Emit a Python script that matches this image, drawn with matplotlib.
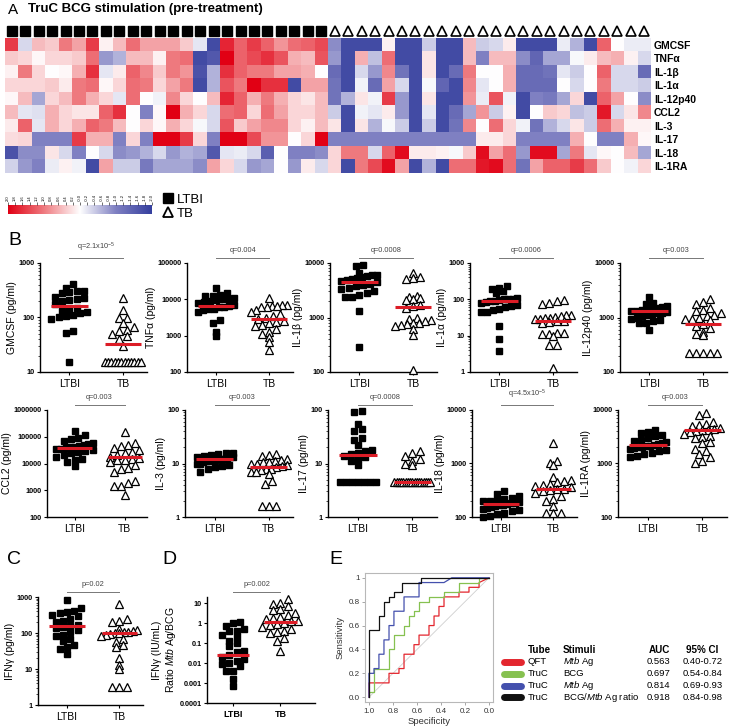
import numpy as np
import matplotlib
matplotlib.use("Agg")
import matplotlib.pyplot as plt
from matplotlib.colors import LinearSegmentedColormap
from matplotlib.lines import Line2D
from matplotlib.ticker import FixedLocator, LogLocator, NullFormatter

plt.rcParams['font.family'] = ['Liberation Sans', 'DejaVu Sans']
plt.rcParams['mathtext.fontset'] = 'custom'
plt.rcParams['mathtext.rm'] = 'Liberation Sans'
plt.rcParams['mathtext.it'] = 'Liberation Sans:italic'
plt.rcParams['mathtext.bf'] = 'Liberation Sans:bold'

# ---------------- data ----------------
cytokines = ['GMCSF', 'TNFα', 'IL-1β', 'IL-1α', 'IL-12p40', 'CCL2', 'IL-3', 'IL-17', 'IL-18', 'IL-1RA']

# z-scores, rows = cytokines, 24 LTBI columns then 24 TB columns
heat_ltbi = [
    [1.5, -0.3, 0.5, 0.4, 1.0, 0.7, 1.5, 0.1, 0.5, 1.1, 0.7, 0.7, 0.7, 0.4, -0.2, -1.8, 1.7, 1.2, 1.5, 1.2, 0.8, 1.1, 1.2, 1.4],
    [0.4, 0.3, 0.05, 0.3, 0.3, 0.4, 1.1, -0.8, -0.6, 0.5, 0.5, 0.1, 1.0, 1.1, -1.8, -1.6, 2.0, 1.2, 1.4, 1.6, 1.3, 0.6, 0.5, 1.3],
    [0.1, 1.0, 0.3, 0.0, 0.05, 0.6, 1.6, -0.2, 0.15, 1.2, 0.9, 0.4, 1.0, 0.8, -1.7, -0.6, 1.6, 1.2, 1.0, 1.0, 0.7, 0.7, 0.6, 0.0],
    [0.3, 0.3, 0.3, 0.4, 0.15, 1.0, 1.1, 0.05, 0.3, 1.1, 1.0, 0.3, 0.7, 1.0, -1.8, -0.6, 1.3, 1.0, 2.0, 1.6, 1.6, -1.8, 0.7, 0.7],
    [0.05, 0.5, -0.7, 0.3, 0.5, 1.0, 0.6, 0.3, -0.2, 1.1, 0.0, -0.1, 0.9, 0.3, 0.0, 0.5, 1.7, 1.2, 0.6, 1.0, 0.6, 0.3, 0.2, 0.5],
    [0.5, -0.2, -0.25, 0.6, 0.3, 0.2, 0.2, 1.2, 1.6, 0.0, -1.0, 0.05, 2.0, 0.6, 0.3, -0.3, 1.1, 1.2, 0.3, 1.1, 0.7, 0.3, 0.3, 0.5],
    [0.15, 1.2, -0.2, 0.6, 0.3, 0.6, 1.2, 1.0, 0.5, 0.0, 0.3, 0.05, 0.6, 0.3, -0.05, -0.3, 1.3, 0.4, 0.7, 0.9, 0.9, 0.3, 0.1, 0.5],
    [0.25, 0.3, -1.0, -1.0, -1.0, 1.5, 0.6, 0.6, -1.0, 0.3, -1.0, 2.0, 2.0, 1.5, 0.3, -1.0, 2.0, 2.0, 1.4, 0.8, 0.8, 0.0, 0.3, 2.0],
    [-1.7, -0.9, -0.9, 0.2, -0.3, -1.0, 0.0, -0.3, -0.9, -0.8, -0.6, -0.3, -0.8, -0.6, -0.7, -1.6, -0.2, -0.15, -0.3, -1.5, 0.0, -1.0, -1.0, -0.9],
    [-0.35, -0.8, -1.0, -0.15, 0.1, -0.1, -1.8, 0.7, -0.4, -0.4, -1.1, -0.7, -0.7, -0.7, -0.9, 0.7, 0.3, -0.3, -0.8, -0.7, 0.0, -0.8, 0.15, -0.3],
]
heat_tb = [
    [-0.9, -1.8, -1.8, -1.8, 0.1, -1.8, -1.8, -0.4, -1.8, -1.8, 0.5, -0.4, -0.3, 0.15, -1.8, -1.8, -1.8, -0.15, -0.6, -1.8, 1.2, 0.0, -0.15, -0.15],
    [-0.8, -1.8, 0.6, -0.5, 1.1, -1.8, -1.8, 0.2, -1.8, -1.8, 0.5, -1.0, 0.5, 0.5, -0.9, -1.4, -0.7, -0.7, -0.05, 0.15, 0.5, 0.6, 0.1, -0.3],
    [-1.3, -1.8, -0.3, -0.8, 0.9, -1.2, -1.8, 0.2, -1.8, -1.3, 1.0, 0.0, 0.0, 0.6, -1.3, -1.3, -1.2, -0.2, -0.4, 0.0, 1.2, -0.3, -0.3, -1.3],
    [-1.2, -1.8, -0.1, -1.3, 0.7, -0.3, -1.8, -0.05, -1.4, -1.8, 0.9, -0.2, 0.0, 0.6, -1.3, -1.3, -1.3, 0.0, -0.3, 0.0, 1.0, -0.3, -0.3, -0.4],
    [-1.2, -0.6, 0.2, -0.1, 1.5, -0.8, -1.8, 0.2, -1.8, -1.8, 0.8, -0.15, 1.3, -0.1, -1.8, -1.0, -1.1, -0.7, 0.3, -1.8, 1.2, 0.7, 0.0, -0.9],
    [-0.4, -1.8, -0.1, -0.2, 0.15, -0.8, -1.8, -0.2, -1.8, -1.3, -0.7, 0.8, -0.4, 0.1, -1.8, 0.0, 0.4, 0.3, -0.5, -0.4, 1.8, -0.3, 0.2, 0.9],
    [0.2, -1.8, 0.2, -0.6, -0.05, -0.4, -1.8, -0.4, -1.8, -1.2, 0.9, 0.0, 1.1, 0.3, -0.1, -1.2, -0.6, -0.3, 0.2, -0.4, 1.1, 0.6, 0.1, 0.1],
    [-1.0, -1.0, -1.0, -1.0, -1.0, -1.0, -1.0, -1.0, -1.0, -1.0, -1.0, 0.15, 0.15, 0.3, -1.0, -1.0, -1.0, -1.0, 0.6, 0.0, -1.0, -1.0, 0.6, 0.05],
    [0.3, 1.0, 1.0, -0.3, 1.2, 1.9, 0.15, 0.15, 0.1, -0.05, 0.4, 1.9, 0.7, 1.1, -0.8, 1.9, 1.9, -0.7, 1.0, -0.2, 0.05, 0.0, 0.5, -0.7],
    [0.3, -1.8, 1.0, 1.4, 1.9, 0.7, -1.8, -0.6, -1.8, 1.1, 1.1, 1.8, 1.9, 1.1, -1.2, 0.7, 1.2, 1.2, 1.5, 1.1, 0.4, 0.0, -0.1, 0.3],
]

# panel B (pg/ml), lines = group medians
gmcsf_ltbi = [415, 350, 300, 300, 290, 280, 240, 230, 220, 210, 200, 175, 150, 140, 130, 125, 120, 110, 105, 100, 95, 57, 52, 15]
gmcsf_tb = [230, 138, 96, 96, 80, 66, 60, 57, 50, 45, 40, 30] + [15] * 12
gmcsf_med = [160, 33]
tnf_ltbi = [21000, 15000, 13000, 12000, 12000, 11000, 10000, 10000, 9500, 9000, 8500, 8000, 7000, 6500, 6000, 6000, 5500, 5500, 5000, 4500, 2700, 2200, 1300, 1000]
tnf_tb = [11000, 7000, 6800, 6500, 6500, 6200, 6000, 5000, 4500, 4000, 3500, 3000, 2800, 2500, 2400, 2300, 2000, 1800, 1500, 1300, 1100, 900, 650, 400]
tnf_med = [6400, 2900]
il1b_ltbi = [9300, 8700, 6500, 6100, 6000, 5800, 5500, 5300, 5000, 4800, 4600, 4400, 4200, 4000, 3800, 3500, 3300, 3000, 2800, 2600, 2400, 2400, 1300, 290]
il1b_tb = [6500, 5600, 5200, 5000, 2500, 2400, 2300, 2200, 2100, 1700, 1600, 1500, 1000, 950, 900, 850, 800, 780, 750, 720, 700, 620, 480, 110]
il1b_med = [4400, 1580]
il1a_ltbi = [235, 200, 190, 170, 150, 110, 105, 100, 100, 95, 90, 88, 85, 80, 72, 65, 60, 55, 50, 45, 45, 18, 8, 3.9]
il1a_tb = [95, 90, 78, 75, 38, 37, 35, 33, 30, 30, 28, 28, 26, 25, 24, 23, 12, 12, 11, 11, 10, 5.6, 5.6, 1.3]
il1a_med = [90, 25]
il12_ltbi = [2400, 1850, 1800, 1600, 1550, 1500, 1450, 1400, 1350, 1300, 1300, 1250, 1200, 1200, 1150, 1100, 1050, 1000, 950, 900, 850, 800, 780, 600]
il12_tb = [2200, 1900, 1800, 1500, 1400, 1300, 1200, 1100, 1050, 1000, 950, 920, 900, 750, 700, 650, 550, 500, 470, 220, 220, 220, 220, 220]
il12_med = [1290, 750]
ccl2_ltbi = [170000, 120000, 90000, 80000, 70000, 60000, 55000, 50000, 45000, 42000, 40000, 38000, 36000, 34000, 32000, 30000, 27000, 25000, 20000, 18000, 15000, 13000, 11000, 8000]
ccl2_tb = [145000, 58000, 50000, 45000, 38000, 32000, 27000, 24000, 20000, 18000, 16000, 15000, 14000, 13000, 11000, 9000, 7000, 6000, 5000, 2200, 1800, 1500, 1400, 650]
ccl2_med = [38700, 16800]
il3_ltbi = [16, 15.5, 15, 14.5, 14, 13.5, 13, 13, 12.5, 12, 12, 12, 11.5, 11.5, 11, 11, 10.5, 10, 10, 9.5, 9, 8.5, 8, 7]
il3_tb = [15, 14.5, 14, 12, 11.5, 11, 10.5, 10.5, 10, 10, 9.5, 9, 8.5, 8, 8, 7.5, 7, 7, 6.5, 4.7, 4.2, 1.6, 1.6, 1.6]
il3_med = [11.9, 8.7]
il17_ltbi = [95, 93, 55, 45, 40, 30, 28, 22, 18, 17, 16, 15, 14, 13, 12, 11, 9.3] + [4.5] * 7
il17_tb = [17, 16, 14, 12, 11, 10, 9.5] + [4.5] * 17
il17_med = [14.3, 4.5]
il18_ltbi = [300, 270, 250, 230, 220, 210, 200, 195, 190, 185, 180, 175, 170, 165, 160, 155, 150, 140, 135, 130, 120, 115, 105, 100]
il18_tb = [2400, 1100, 1000, 950, 550, 500, 480, 460, 420, 400, 380, 360, 340, 330, 320, 300, 280, 250, 220, 200, 160, 120, 120, 120]
il18_med = [177, 335]
il1ra_ltbi = [4200, 3900, 3700, 3400, 3200, 3000, 2800, 2600, 2500, 2400, 2300, 2200, 2100, 2100, 2000, 2000, 1950, 1900, 1800, 1700, 1600, 1500, 1400, 1350]
il1ra_tb = [8800, 8200, 6000, 5500, 5200, 5000, 4700, 4500, 4300, 4200, 4000, 3800, 3500, 3300, 3100, 3000, 2500, 2400, 1900, 1700, 1500, 1300, 1100, 1000]
il1ra_med = [2200, 4150]

# panel C (pg/ml) and D (ratio)
ifng_ltbi = [800, 480, 400, 380, 350, 320, 300, 250, 220, 200, 170, 155, 150, 140, 120, 110, 90, 80, 70, 60, 45, 40, 35, 26]
ifng_tb = [650, 250, 220, 200, 130, 120, 115, 110, 105, 100, 100, 95, 90, 80, 70, 55, 45, 40, 20, 13, 10, 3.2, 3.2, 3.2]
ifng_med = [154, 98]
ratio_ltbi = [1.1, 1.0, 0.7, 0.5, 0.42, 0.4, 0.25, 0.2, 0.12, 0.1, 0.07, 0.04, 0.035, 0.025, 0.02, 0.015, 0.013, 0.01, 0.009, 0.007, 0.004, 0.004, 0.0016, 0.0007]
ratio_tb = [16, 10, 9, 7, 5, 4.5, 3, 2.5, 2, 1.8, 1.5, 1.3, 1.2, 1.0, 0.9, 0.8, 0.6, 0.5, 0.4, 0.35, 0.3, 0.18, 0.13, 0.04]
ratio_med = [0.026, 1.18]

# panel E ROC vertices (specificity, sensitivity)
roc_qft_spec = [1, 1, 0.833, 0.833, 0.75, 0.75, 0.708, 0.708, 0.625, 0.625, 0.583, 0.583, 0.5, 0.5, 0.458, 0.458, 0.417, 0.417, 0.375, 0.375, 0.25, 0.25, 0.167, 0.167, 0.083, 0.083, 0]
roc_qft_sens = [0, 0.12, 0.12, 0.2, 0.2, 0.24, 0.24, 0.36, 0.36, 0.44, 0.44, 0.52, 0.52, 0.6, 0.6, 0.68, 0.68, 0.76, 0.76, 0.84, 0.84, 0.88, 0.88, 0.92, 0.92, 0.96, 1.0]
roc_bcg_spec = [1, 1, 0.958, 0.958, 0.833, 0.833, 0.792, 0.792, 0.708, 0.708, 0.667, 0.667, 0.625, 0.625, 0.583, 0.583, 0.5, 0.5, 0.375, 0.375, 0.25, 0.25, 0.083, 0.083, 0]
roc_bcg_sens = [0, 0.04, 0.04, 0.24, 0.24, 0.4, 0.4, 0.52, 0.52, 0.6, 0.6, 0.68, 0.68, 0.72, 0.72, 0.8, 0.8, 0.84, 0.84, 0.88, 0.88, 0.96, 0.96, 1.0, 1.0]
roc_mtb_spec = [1, 1, 0.958, 0.958, 0.917, 0.917, 0.875, 0.875, 0.833, 0.833, 0.792, 0.792, 0.708, 0.708, 0.583, 0.583, 0.375, 0.31, 0]
roc_mtb_sens = [0, 0.2, 0.2, 0.24, 0.24, 0.36, 0.36, 0.48, 0.48, 0.6, 0.6, 0.72, 0.72, 0.84, 0.84, 0.96, 0.96, 1.0, 1.0]
roc_ratio_spec = [1, 1, 0.917, 0.917, 0.875, 0.875, 0.833, 0.833, 0.792, 0.792, 0.729, 0.729, 0.563, 0.563, 0]
roc_ratio_sens = [0, 0.56, 0.56, 0.68, 0.68, 0.8, 0.8, 0.84, 0.84, 0.88, 0.88, 0.96, 0.96, 1.0, 1.0]

roc_tube = ['QFT', 'TruC', 'TruC', 'TruC']
roc_stim = ['$\\mathit{Mtb}$ Ag', 'BCG', '$\\mathit{Mtb}$ Ag', 'BCG/$\\mathit{Mtb}$ Ag ratio']
roc_auc = ['0.563', '0.697', '0.814', '0.918']
roc_ci = ['0.40-0.72', '0.54-0.84', '0.69-0.93', '0.84-0.98']
roc_colors = ['#e3262e', '#86c150', '#4450ad', '#111111']

W, H = 729, 728
fig = plt.figure(figsize=(7.29, 7.28), dpi=100)


def box(x0, y0, x1, y1):
    return [x0 / W, 1 - y1 / H, (x1 - x0) / W, (y1 - y0) / H]


# ---------------- panel A ----------------
fig.text(8 / W, 1 - 3 / H, 'A', fontsize=11, va='top')
fig.text(28 / W, 1 - 3 / H, 'TruC BCG stimulation (pre-treatment)', fontsize=9.5,
         fontweight='bold', va='top')

cmap = LinearSegmentedColormap.from_list(
    'bwr2', ['#353f9e', '#7f80c2', '#ffffff', '#ef7b80', '#e10014'])
z = np.hstack([np.array(heat_ltbi), np.array(heat_tb)])
ncol = z.shape[1]
n_ltbi = len(heat_ltbi[0])

ax_h = fig.add_axes(box(5, 38, 651, 173))
ax_h.imshow(z, cmap=cmap, vmin=-2, vmax=2, aspect='auto', interpolation='nearest')
ax_h.set_xticks([])
ax_h.yaxis.tick_right()
ax_h.set_yticks(range(len(cytokines)))
ax_h.set_yticklabels(cytokines, fontsize=7.5, fontweight='bold')
ax_h.tick_params(axis='y', length=0, pad=2)
for s in ax_h.spines.values():
    s.set_visible(False)

ax_m = fig.add_axes(box(5, 23, 651, 38))
ax_m.set_xlim(-0.5, ncol - 0.5)
ax_m.set_ylim(-1, 1)
ax_m.plot(range(n_ltbi), [0] * n_ltbi, 's', color='black', ms=7.5, ls='')
ax_m.plot(range(n_ltbi, ncol), [0] * (ncol - n_ltbi), '^', mfc='white', mec='black',
          mew=1.2, ms=7.5, ls='')
ax_m.axis('off')

cax = fig.add_axes(box(8, 205, 152, 214))
cax.imshow(np.linspace(2, -2, 256)[None, :], cmap=cmap, vmin=-2, vmax=2,
           extent=[2, -2, 0, 1], aspect='auto')
cticks = np.round(np.arange(-2, 2.01, 0.2), 1)
cax.set_xticks(cticks)
cax.set_xticklabels(['%.1f' % t for t in cticks], rotation=90, fontsize=3)
cax.xaxis.tick_top()
cax.tick_params(axis='x', length=2, width=0.4, pad=1)
cax.set_yticks([])
for s in cax.spines.values():
    s.set_visible(False)

fig.legend(handles=[Line2D([], [], marker='s', color='black', ls='', ms=7),
                    Line2D([], [], marker='^', mfc='white', mec='black', mew=1.3, ls='', ms=7.5)],
           labels=['LTBI', 'TB'], loc='upper left', bbox_to_anchor=(156 / W, 1 - 188 / H),
           frameon=False, fontsize=9.5, handletextpad=0.2, labelspacing=0.15,
           handlelength=1.0, borderaxespad=0)


# ---------------- dot plots ----------------
def swarm(vals, ylim, h_px, xlim, w_px):
    # rows of points (Prism-like scatter), spread sideways inside each row
    y = (np.log10(vals) - np.log10(ylim[0])) / (np.log10(ylim[1]) - np.log10(ylim[0])) * h_px
    bins = np.floor(y / 7.5)
    offs = np.zeros(len(vals))
    for b in np.unique(bins):
        idx = np.where(bins == b)[0]
        idx = idx[np.argsort(y[idx])]
        n = len(idx)
        step = min(7.2, 36.0 / max(n - 1, 1))
        offs[idx] = (np.arange(n) - (n - 1) / 2) * step
    return offs * (xlim[1] - xlim[0]) / w_px


def fmt(v):
    return str(int(v)) if v >= 1 else np.format_float_positional(v)


def dot_panel(px, ltbi, tb, med, ylim, ylabel, qtext, xlim=(0.45, 2.45), bold_x=False):
    ax = fig.add_axes(box(*px))
    w_px, h_px = px[2] - px[0], px[3] - px[1]
    ax.set_yscale('log')
    ax.set_ylim(ylim)
    ax.set_xlim(xlim)
    for pos, vals in [(1, ltbi), (2, tb)]:
        vals = np.array(vals, dtype=float)
        xs = pos + swarm(vals, ylim, h_px, xlim, w_px)
        if pos == 1:
            ax.plot(xs, vals, 's', color='black', ms=4.8, ls='', clip_on=False, zorder=3)
        else:
            ax.plot(xs, vals, '^', mfc='white', mec='black', mew=0.9, ms=5.4, ls='',
                    clip_on=False, zorder=3)
    for pos, m in zip([1, 2], med):
        ax.plot([pos - 0.34, pos + 0.34], [m, m], color='#dc1c26', lw=2.2,
                solid_capstyle='butt', zorder=4)
    decades = 10.0 ** np.arange(np.round(np.log10(ylim[0])), np.log10(ylim[1]) + 0.01)
    ax.yaxis.set_major_locator(FixedLocator(decades))
    ax.set_yticklabels([fmt(d) for d in decades], fontsize=5.2, fontweight='bold')
    ax.yaxis.set_minor_locator(LogLocator(subs=np.arange(2, 10)))
    ax.yaxis.set_minor_formatter(NullFormatter())
    ax.tick_params(axis='y', which='major', length=2.5, width=0.8, pad=1.2)
    ax.tick_params(axis='y', which='minor', length=1.3, width=0.5)
    ax.set_xticks([1, 2])
    ax.set_xticklabels(['LTBI', 'TB'], fontsize=7.5 if not bold_x else 6.5,
                       fontweight='bold' if bold_x else 'normal')
    ax.tick_params(axis='x', length=2, width=0.8, pad=3)
    for s in ['top', 'right']:
        ax.spines[s].set_visible(False)
    for s in ['left', 'bottom']:
        ax.spines[s].set_linewidth(1.0)
    ax.set_ylabel(ylabel, fontsize=7.5, labelpad=1.5)
    tr = ax.get_xaxis_transform()
    ax.plot([1, 2], [1.05, 1.05], color='#777777', lw=0.7, transform=tr, clip_on=False)
    ax.text(1.5, 1.085, qtext, transform=tr, ha='center', va='bottom', fontsize=5.3,
            color='#444444')
    return ax


fig.text(8 / W, 1 - 232 / H, 'B', fontsize=14, va='top')

dot_panel((40, 263, 147, 372), gmcsf_ltbi, gmcsf_tb, gmcsf_med, (10, 1000),
          'GMCSF (pg/ml)', 'q=2.1x10$^{-5}$')
dot_panel((187, 263, 293, 372), tnf_ltbi, tnf_tb, tnf_med, (100, 100000),
          'TNFα (pg/ml)', 'q=0.004')
dot_panel((330, 263, 437, 372), il1b_ltbi, il1b_tb, il1b_med, (100, 10000),
          'IL-1β (pg/ml)', 'q=0.0008')
dot_panel((470, 263, 577, 372), il1a_ltbi, il1a_tb, il1a_med, (1, 1000),
          'IL-1α (pg/ml)', 'q=0.0006')
dot_panel((620, 263, 727, 372), il12_ltbi, il12_tb, il12_med, (100, 10000),
          'IL-12p40 (pg/ml)', 'q=0.003')

dot_panel((47, 410, 147, 517), ccl2_ltbi, ccl2_tb, ccl2_med, (100, 1000000),
          'CCL2 (pg/ml)', 'q=0.003')
dot_panel((185, 410, 293, 517), il3_ltbi, il3_tb, il3_med, (1, 100),
          'IL-3 (pg/ml)', 'q=0.003')
dot_panel((328, 410, 437, 517), il17_ltbi, il17_tb, il17_med, (1, 100),
          'IL-17 (pg/ml)', 'q=0.0008')
dot_panel((472, 410, 577, 517), il18_ltbi, il18_tb, il18_med, (100, 10000),
          'IL-18 (pg/ml)', 'q=4.5x10$^{-5}$')
dot_panel((618, 410, 727, 517), il1ra_ltbi, il1ra_tb, il1ra_med, (100, 10000),
          'IL-1RA (pg/ml)', 'q=0.003')

fig.text(7 / W, 1 - 551 / H, 'C', fontsize=14, va='top')
dot_panel((38, 597, 143, 705), ifng_ltbi, ifng_tb, ifng_med, (1, 1000),
          'IFNγ (pg/ml)', 'p=0.02')

fig.text(162 / W, 1 - 551 / H, 'D', fontsize=14, va='top')
dot_panel((207, 597, 315, 703), ratio_ltbi, ratio_tb, ratio_med, (0.0001, 20),
          'IFNγ (IU/mL)\nRatio $\\mathit{Mtb}$ Ag/BCG', 'p=0.002',
          xlim=(0.45, 2.73), bold_x=True)

# ---------------- panel E ----------------
fig.text(329 / W, 1 - 551 / H, 'E', fontsize=14, va='top')
ax_e = fig.add_axes(box(365, 573, 493, 702))
ax_e.set_xlim(1.033, -0.033)
ax_e.set_ylim(-0.04, 1.04)
ax_e.plot([1, 0], [0, 1], color='#cfcfcf', lw=0.6)
for sp, se, c in [(roc_qft_spec, roc_qft_sens, roc_colors[0]),
                  (roc_bcg_spec, roc_bcg_sens, roc_colors[1]),
                  (roc_mtb_spec, roc_mtb_sens, roc_colors[2]),
                  (roc_ratio_spec, roc_ratio_sens, roc_colors[3])]:
    ax_e.plot(sp, se, color=c, lw=0.9)
ax_e.set_xticks([1.0, 0.8, 0.6, 0.4, 0.2, 0.0])
ax_e.set_xticklabels(['1.0', '0.8', '0.6', '0.4', '0.2', '0.0'])
ax_e.set_yticks([0, 0.2, 0.4, 0.6, 0.8, 1.0])
ax_e.set_yticklabels(['0.0', '0.2', '0.4', '0.6', '0.8', '1'])
ax_e.tick_params(labelsize=5.8, length=2, width=0.6, color='#999999', labelcolor='#333333', pad=2)
for s in ax_e.spines.values():
    s.set_color('#b8b8b8')
    s.set_linewidth(0.8)
ax_e.set_xlabel('Specificity', fontsize=6.8, labelpad=2, color='#333333')
ax_e.set_ylabel('Sensitivity', fontsize=6.8, labelpad=3, color='#333333')

# legend table
cols_x = [528, 563, 647, 683]
fs = 6.8
fig.text(cols_x[0] / W, 1 - 650 / H, 'Tube', fontsize=fs + 0.3, fontweight='bold', va='center')
fig.text(cols_x[1] / W, 1 - 650 / H, 'Stimuli', fontsize=fs + 0.3, fontweight='bold', va='center')
fig.text((cols_x[2] + 2) / W, 1 - 650 / H, 'AUC', fontsize=fs + 0.3, fontweight='bold', va='center')
fig.text((cols_x[3] + 3) / W, 1 - 650 / H, '95% CI', fontsize=fs + 0.3, fontweight='bold', va='center')
for i in range(4):
    yy = 1 - (662 + i * 11.8) / H
    fig.add_artist(Line2D([504 / W, 521 / W], [yy, yy], color=roc_colors[i], lw=5,
                          solid_capstyle='round', transform=fig.transFigure))
    fig.text(cols_x[0] / W, yy, roc_tube[i], fontsize=fs, va='center')
    fig.text(cols_x[1] / W, yy, roc_stim[i], fontsize=fs, va='center')
    fig.text(cols_x[2] / W, yy, roc_auc[i], fontsize=fs, va='center')
    fig.text(cols_x[3] / W, yy, roc_ci[i], fontsize=fs, va='center')

fig.savefig('out.png', dpi=100)
